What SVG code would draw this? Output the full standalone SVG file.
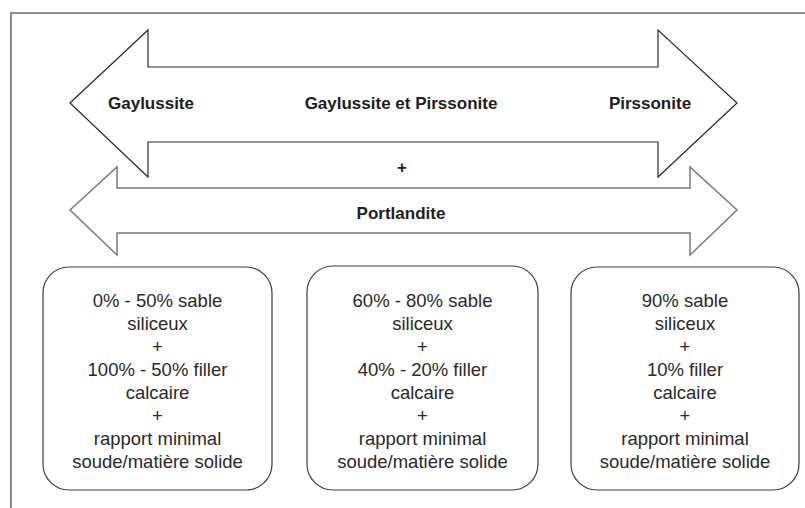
<svg xmlns="http://www.w3.org/2000/svg" width="805" height="508" viewBox="0 0 805 508">
<style>
.frame{stroke:#6a6a6a;stroke-width:1.5;fill:none}
.arrow1{fill:#fff;stroke:#2a2a2a;stroke-width:1.2}
.arrow2{fill:#fff;stroke:#7a7a7a;stroke-width:1.5}
.box{fill:#fff;stroke:#3c3c3c;stroke-width:1.2}
.bold{font-family:"Liberation Sans",Arial,sans-serif;font-weight:bold;font-size:17px;fill:#1e1e1e;text-anchor:middle}
.body{font-family:"Liberation Sans",Arial,sans-serif;font-size:18.5px;fill:#2a2a2a;text-anchor:middle}
</style>
<rect width="805" height="508" fill="#fff"/>
<path class="frame" d="M11,508 V13 H805"/>
<g id="connectors">
<g id="arrow-top">
<polygon class="arrow1" points="70,103 148,30 148,67 658,67 658,30 737,103 658,177 658,142 148,142 148,177"/>
<text class="bold" x="151" y="109">Gaylussite</text>
<text class="bold" x="401" y="109">Gaylussite et Pirssonite</text>
<text class="bold" x="650" y="109">Pirssonite</text>
</g>
<text class="bold" x="402" y="173">+</text>
<g id="arrow-bottom">
<polygon class="arrow2" points="70,210 117,167 117,188 690,188 690,167 737,210 690,255 690,233 117,233 117,255"/>
<text class="bold" x="401" y="219">Portlandite</text>
</g>
</g>
<g id="box1">
<rect class="box" x="43" y="267" width="229" height="223" rx="26"/>
<text class="body" x="157.5" y="307">0% - 50% sable</text>
<text class="body" x="157.5" y="330">siliceux</text>
<text class="body" x="157.5" y="353">+</text>
<text class="body" x="157.5" y="376">100% - 50% filler</text>
<text class="body" x="157.5" y="399">calcaire</text>
<text class="body" x="157.5" y="422">+</text>
<text class="body" x="157.5" y="445">rapport minimal</text>
<text class="body" x="157.5" y="468">soude/matière solide</text>
</g>
<g id="box2">
<rect class="box" x="307" y="266" width="231" height="224" rx="26"/>
<text class="body" x="422.5" y="307">60% - 80% sable</text>
<text class="body" x="422.5" y="330">siliceux</text>
<text class="body" x="422.5" y="353">+</text>
<text class="body" x="422.5" y="376">40% - 20% filler</text>
<text class="body" x="422.5" y="399">calcaire</text>
<text class="body" x="422.5" y="422">+</text>
<text class="body" x="422.5" y="445">rapport minimal</text>
<text class="body" x="422.5" y="468">soude/matière solide</text>
</g>
<g id="box3">
<rect class="box" x="571" y="267" width="228" height="223" rx="26"/>
<text class="body" x="685" y="307">90% sable</text>
<text class="body" x="685" y="330">siliceux</text>
<text class="body" x="685" y="353">+</text>
<text class="body" x="685" y="376">10% filler</text>
<text class="body" x="685" y="399">calcaire</text>
<text class="body" x="685" y="422">+</text>
<text class="body" x="685" y="445">rapport minimal</text>
<text class="body" x="685" y="468">soude/matière solide</text>
</g>
</svg>
